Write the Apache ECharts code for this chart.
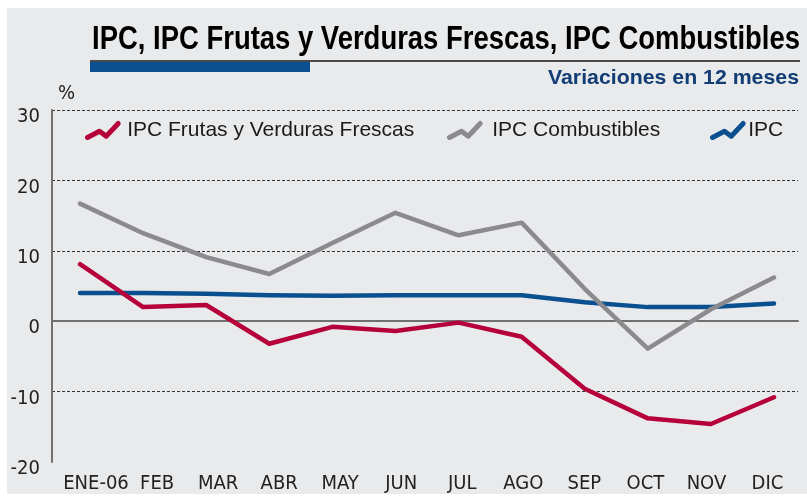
<!DOCTYPE html>
<html>
<head>
<meta charset="utf-8">
<script src="https://cdn.jsdelivr.net/npm/echarts@6/dist/echarts.min.js"></script>
<style>html,body{margin:0;padding:0;background:#fff}#c{width:807px;height:496px}</style>
</head>
<body>
<div id="c"></div>
<script>
const categories = ['ENE-06','FEB','MAR','ABR','MAY','JUN','JUL','AGO','SEP','OCT','NOV','DIC'];
const ipc = [4.0, 4.0, 3.9, 3.7, 3.6, 3.7, 3.7, 3.7, 2.7, 2.0, 2.0, 2.5];
const frutasVerduras = [8.1, 2.0, 2.3, -3.2, -0.8, -1.4, -0.2, -2.2, -9.6, -13.8, -14.6, -10.8];
const combustibles = [16.7, 12.5, 9.1, 6.7, 11.1, 15.4, 12.2, 14.0, 4.6, -3.9, 1.7, 6.2];
const yMin = -20, yMax = 30, yStep = 10;
const titleText = 'IPC, IPC Frutas y Verduras Frescas, IPC Combustibles';
const subtitleText = 'Variaciones en 12 meses';
const names = ['IPC Frutas y Verduras Frescas', 'IPC Combustibles', 'IPC'];

const RED = '#b5003a', GRAY = '#8b8b8d', BLUE = '#0a4f8f';
const NARROW = "'DejaVu Sans Condensed', 'Liberation Sans', sans-serif";
const SANS = "'Liberation Sans', Arial, sans-serif";
const zig = 'path://M0 14 L12 7.7 L18.7 12.7 L30.7 0';

function fitScale(text, font, target) {
  const ctx = document.createElement('canvas').getContext('2d');
  ctx.font = font;
  return target / ctx.measureText(text).width;
}
const titleScale = fitScale(titleText, 'bold 33px "Liberation Sans"', 708);
const subScale = fitScale(subtitleText, 'bold 21px "Liberation Sans"', 251);

function legendFor(name, color, left, pad) {
  return {
    data: [{ name: name, icon: zig,
      itemStyle: { color: 'rgba(0,0,0,0)', borderColor: color, borderWidth: 5, borderCap: 'round', borderJoin: 'round' } }],
    left: left, top: 120, padding: 0, itemWidth: 30.7, itemHeight: 14, selectedMode: false,
    textStyle: { fontFamily: SANS, fontSize: 21, color: '#1a1a1a', padding: [0, 0, 0, pad] }
  };
}

const chart = echarts.init(document.getElementById('c'), null, { renderer: 'canvas' });
chart.setOption({
  backgroundColor: '#ffffff',
  animation: false,
  graphic: [
    { type: 'rect', z: -10, shape: { x: 7, y: 8, width: 800, height: 486 }, style: { fill: '#e9eaec' } },
    { type: 'text', x: 800, y: 40, scaleX: titleScale, style: { text: titleText, align: 'right', verticalAlign: 'middle',
      fontFamily: SANS, fontWeight: 'bold', fontSize: 33, fill: '#000' } },
    { type: 'rect', shape: { x: 90, y: 60, width: 710, height: 2 }, style: { fill: '#4a4a4a' } },
    { type: 'rect', shape: { x: 90, y: 62, width: 220, height: 10 }, style: { fill: BLUE } },
    { type: 'text', x: 799, y: 78, scaleX: subScale, style: { text: subtitleText, align: 'right', verticalAlign: 'middle',
      fontFamily: SANS, fontWeight: 'bold', fontSize: 21, fill: '#123d74' } }
  ],
  legend: [
    legendFor(names[0], RED, 85, 4),
    legendFor(names[1], GRAY, 447, 7),
    legendFor(names[2], BLUE, 710, 0)
  ],
  grid: [
    { left: 52, right: 9, top: 110, bottom: 34 },
    { left: 80, right: 33, top: 110, bottom: 34 },
    { left: 65.5, right: 9, top: 110, bottom: 34 }
  ],
  xAxis: [
    { gridIndex: 0, type: 'category', data: categories, boundaryGap: false,
      axisLine: { lineStyle: { color: '#707070', width: 2 } }, axisTick: { show: false }, axisLabel: { show: false }, splitLine: { show: false } },
    { gridIndex: 1, type: 'category', data: categories, boundaryGap: false, show: false },
    { gridIndex: 2, type: 'category', data: categories, boundaryGap: true,
      axisLine: { show: false }, axisTick: { show: false }, splitLine: { show: false },
      axisLabel: { interval: 0, margin: 12, fontFamily: NARROW, fontSize: 20, color: '#222' } }
  ],
  yAxis: [
    { gridIndex: 0, type: 'value', min: yMin, max: yMax, interval: yStep,
      name: '%', nameLocation: 'end', nameGap: 16,
      nameTextStyle: { fontFamily: NARROW, fontSize: 20, color: '#222', align: 'left', verticalAlign: 'middle', padding: [0, 0, 0, 6] },
      axisLine: { show: true, lineStyle: { color: '#707070', width: 2 } }, axisTick: { show: false },
      splitLine: { show: true, showMinLine: false, lineStyle: { color: '#333', width: 1, type: [3, 2] } },
      axisLabel: { margin: 12, fontFamily: NARROW, fontSize: 20, color: '#222', verticalAlign: 'top', lineHeight: 14 } },
    { gridIndex: 1, type: 'value', min: yMin, max: yMax, interval: yStep, show: false, splitLine: { show: false } },
    { gridIndex: 2, type: 'value', min: yMin, max: yMax, interval: yStep, show: false, splitLine: { show: false } }
  ],
  series: [
    { name: names[2], type: 'line', xAxisIndex: 1, yAxisIndex: 1, data: ipc, symbol: 'none', color: BLUE,
      lineStyle: { color: BLUE, width: 4.5, cap: 'round', join: 'round' } },
    { name: names[0], type: 'line', xAxisIndex: 1, yAxisIndex: 1, data: frutasVerduras, symbol: 'none', color: RED,
      lineStyle: { color: RED, width: 4.5, cap: 'round', join: 'round' } },
    { name: names[1], type: 'line', xAxisIndex: 1, yAxisIndex: 1, data: combustibles, symbol: 'none', color: GRAY,
      lineStyle: { color: GRAY, width: 4.5, cap: 'round', join: 'round' } }
  ]
});
</script>
</body>
</html>
